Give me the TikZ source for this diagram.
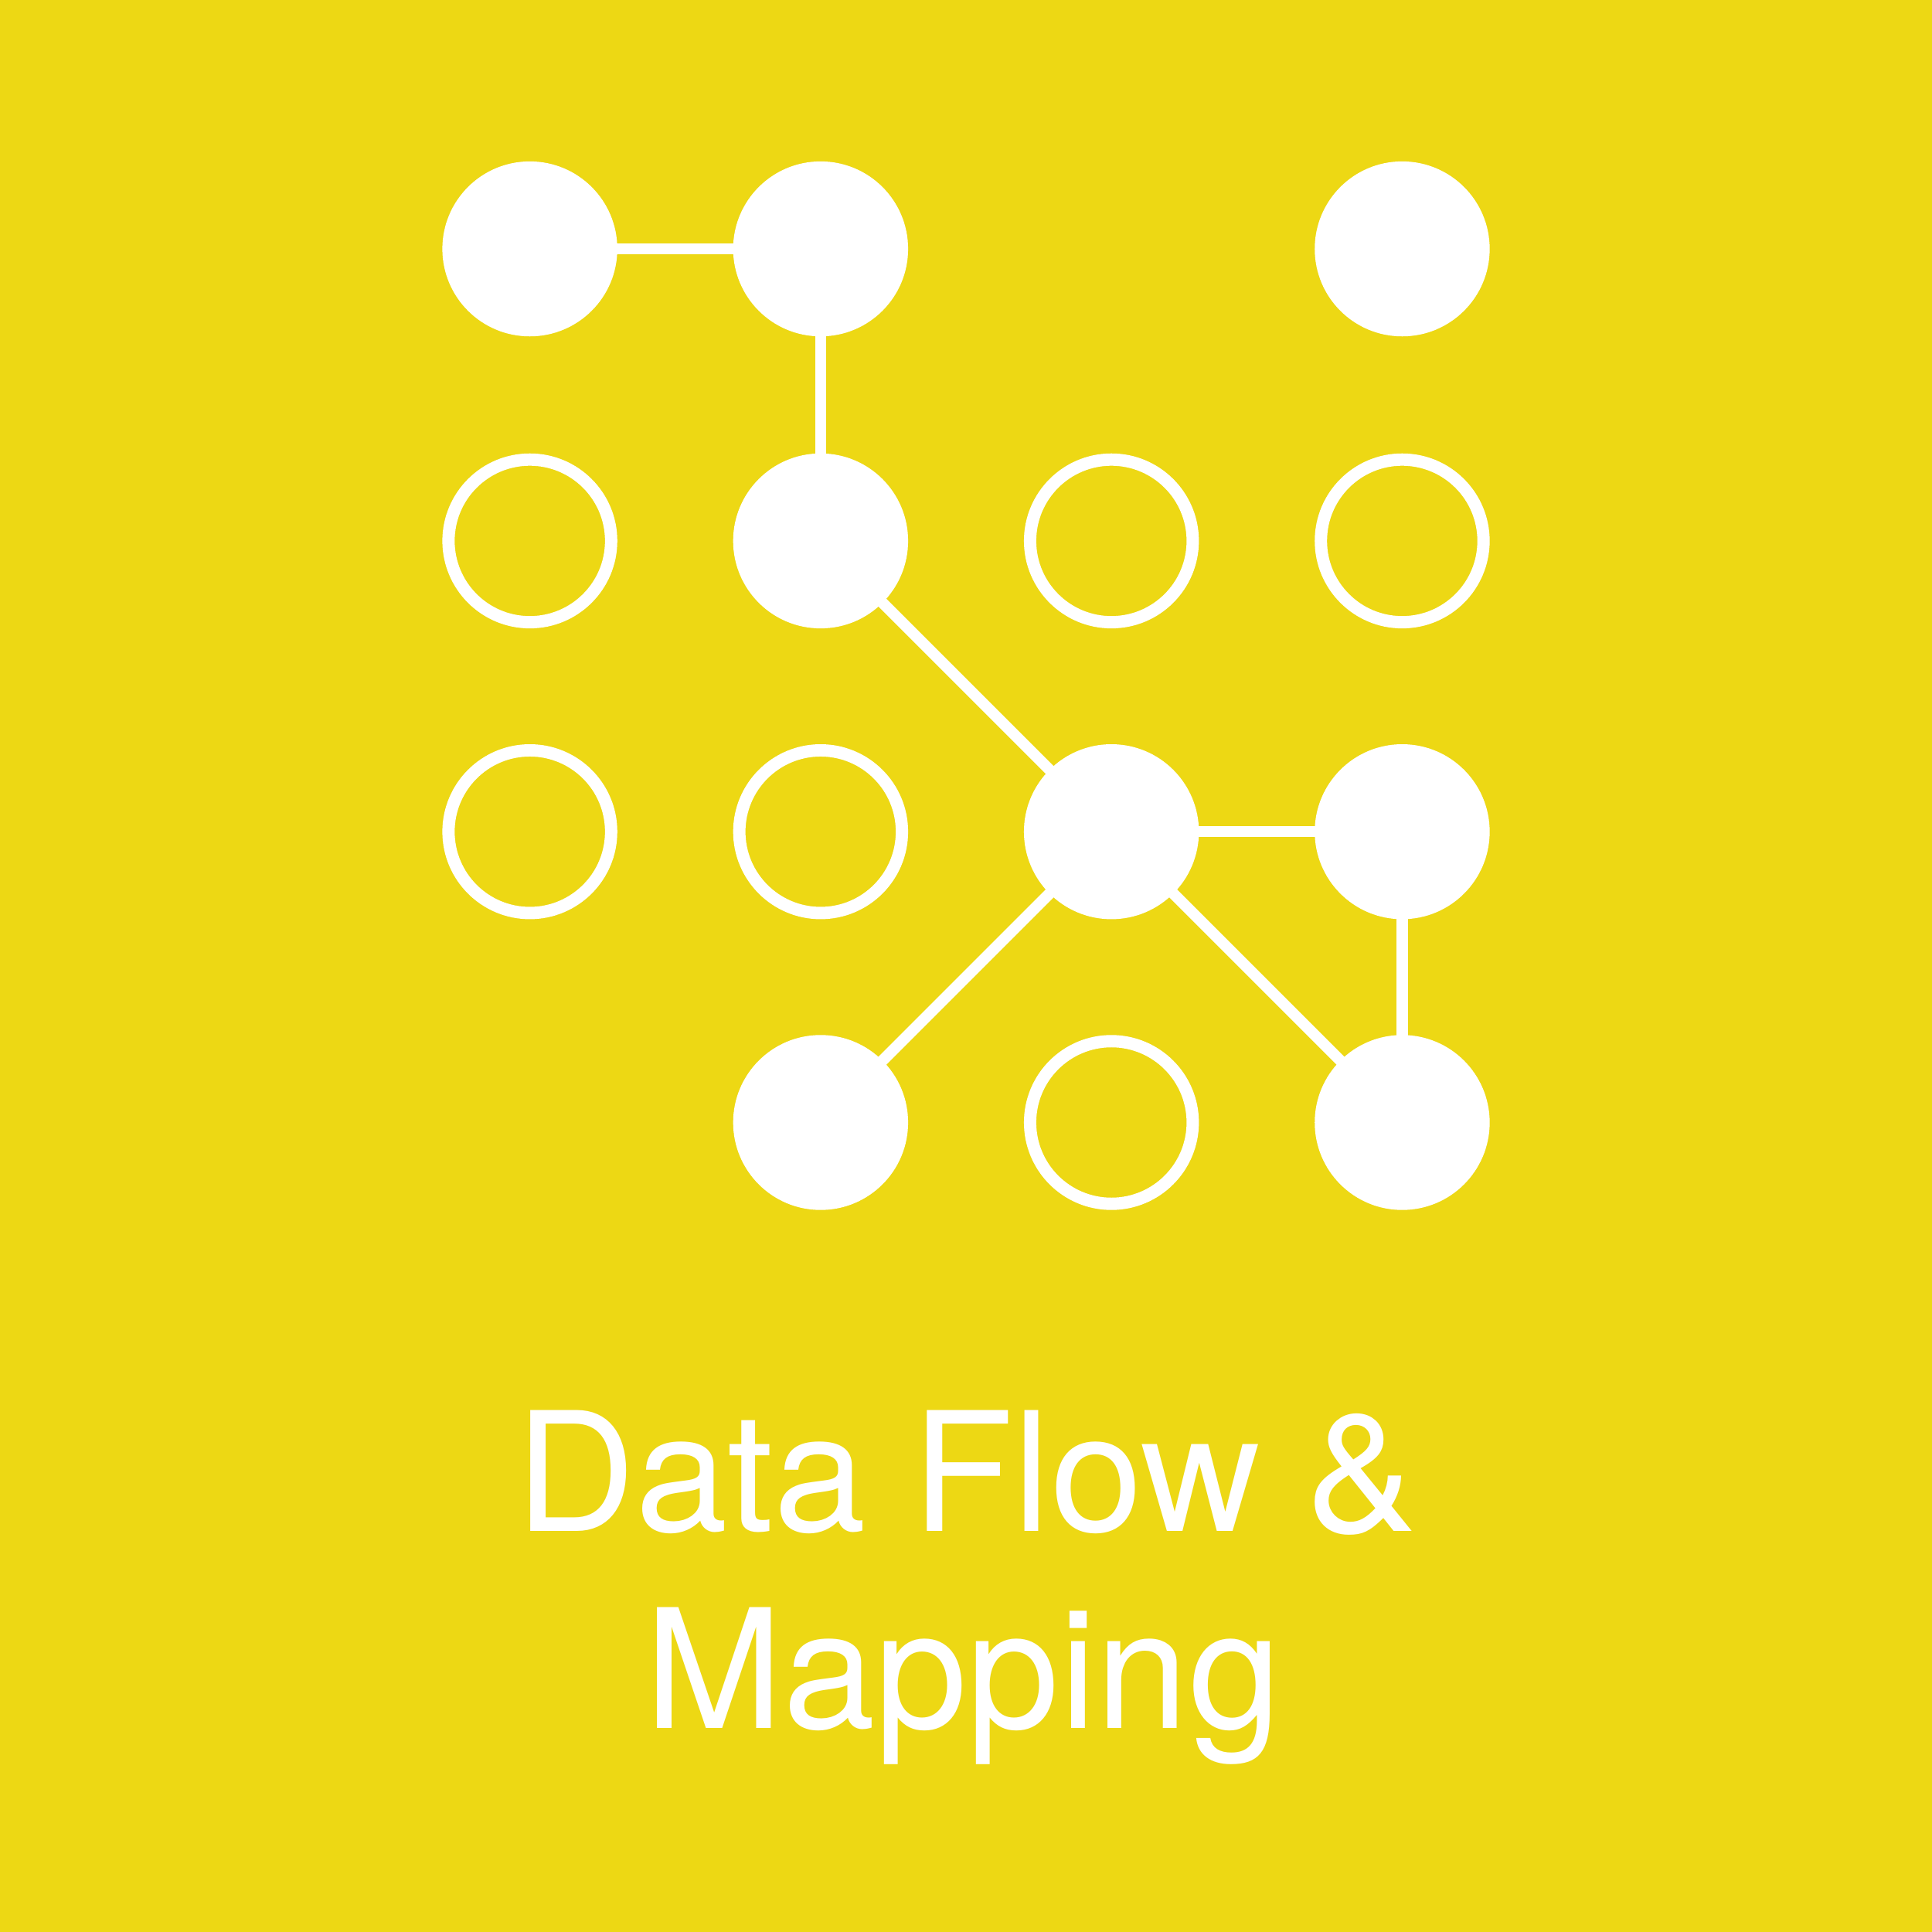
\documentclass[tikz,border=0pt]{standalone}
\usepackage{fontspec}
\setmainfont{TeX Gyre Heros}
\usetikzlibrary{backgrounds}
\definecolor{bgyellow}{RGB}{237,216,20}
\begin{document}
\begin{tikzpicture}[
  full/.style={circle, inner sep=0pt, minimum size=1.42cm, fill=white},
  ring/.style={circle, inner sep=0pt, minimum size=1.32cm, draw=white, line width=0.1cm},
  link/.style={draw=white, line width=0.09cm},
  label/.style={text=white, font=\fontsize{38.3}{45}\selectfont, inner sep=0pt, anchor=base}
]
\useasboundingbox (0,0) rectangle (15.68,-15.68);
% row 1
\node[full] (a1) at (4.30,-2.02) {};
\node[full] (b1) at (6.66,-2.02) {};
\node[full] (d1) at (11.38,-2.02) {};
% row 2
\node[ring] (a2) at (4.30,-4.39) {};
\node[full] (b2) at (6.66,-4.39) {};
\node[ring] (c2) at (9.02,-4.39) {};
\node[ring] (d2) at (11.38,-4.39) {};
% row 3
\node[ring] (a3) at (4.30,-6.75) {};
\node[ring] (b3) at (6.66,-6.75) {};
\node[full] (c3) at (9.02,-6.75) {};
\node[full] (d3) at (11.38,-6.75) {};
% row 4
\node[full] (b4) at (6.66,-9.11) {};
\node[ring] (c4) at (9.02,-9.11) {};
\node[full] (d4) at (11.38,-9.11) {};
\begin{scope}[on background layer]
\fill[bgyellow] (0,0) rectangle (15.68,-15.68);
\draw[link] (a1.center) -- (b1.center);
\draw[link] (b1.center) -- (b2.center);
\draw[link] (b2.center) -- (c3.center);
\draw[link] (c3.center) -- (d3.center);
\draw[link] (c3.center) -- (b4.center);
\draw[link] (c3.center) -- (d4.center);
\draw[link] (d3.center) -- (d4.center);
\end{scope}
% text
\node[label] (t1) at (7.845,-12.43) {Data Flow \&};
\node[label] (t2) at (7.815,-14.03) {Mapping};
\end{tikzpicture}
\end{document}
